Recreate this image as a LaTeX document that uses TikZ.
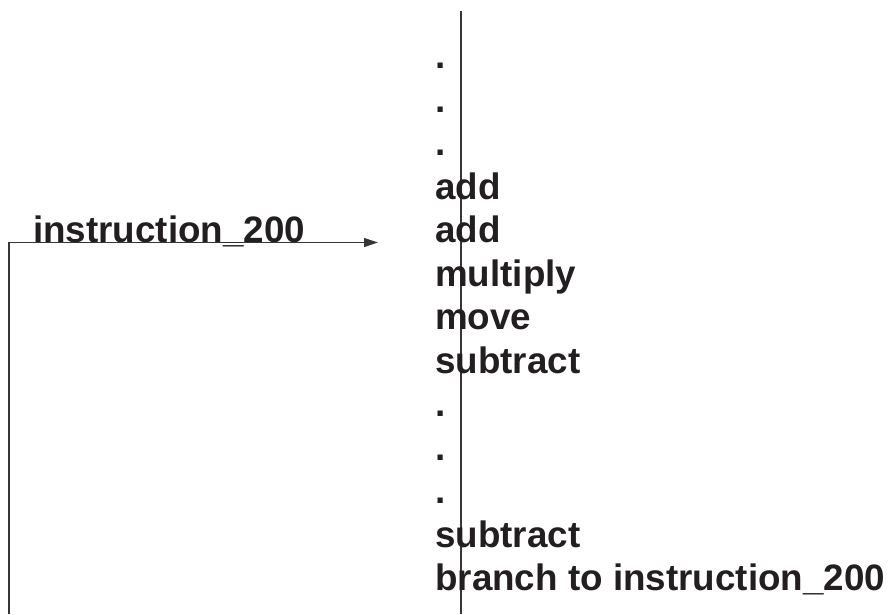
\documentclass[tikz,border=0pt]{standalone}
\usepackage{fontspec}
\setmainfont{Liberation Sans}
\usetikzlibrary{arrows.meta}
\definecolor{ink}{RGB}{35,31,32}
\begin{document}
\begin{tikzpicture}[x=1pt,y=1pt,
  txt/.style={anchor=base west,inner sep=0pt,text=ink,font=\fontsize{36.8}{43.5}\selectfont\bfseries},
  wire/.style={draw=ink!90,line width=1.2pt},
  tip/.style={-{Triangle[length=14pt,width=9pt]}}]
\useasboundingbox (0,0) rectangle (895,-614);
% vertical line through column
\coordinate (vtop) at (461,-11);
\coordinate (vbot) at (461,-614);
\draw[wire] (vtop) -- (vbot);
% column of instructions
\node[txt] (l1)  at (435,-68.5)  {.};
\node[txt] (l2)  at (435,-112)   {.};
\node[txt] (l3)  at (435,-155.5) {.};
\node[txt] (l4)  at (435,-199)   {add};
\node[txt] (l5)  at (435,-242.5) {add};
\node[txt] (l6)  at (435,-286)   {multiply};
\node[txt] (l7)  at (435,-329.5) {move};
\node[txt] (l8)  at (435,-373)   {subtract};
\node[txt] (l9)  at (435,-416.5) {.};
\node[txt] (l10) at (435,-460)   {.};
\node[txt] (l11) at (435,-503.5) {.};
\node[txt] (l12) at (435,-547)   {subtract};
\node[txt] (l13) at (435,-590.5) {branch to instruction\_200};
% label
\node[txt] (lab) at (33,-242.5) {instruction\_200};
% loop arrow
\coordinate (loopstart) at (9,-614);
\coordinate (arrowtip) at (378,-242.5);
\draw[wire,tip] (loopstart) |- (arrowtip);
\end{tikzpicture}
\end{document}
